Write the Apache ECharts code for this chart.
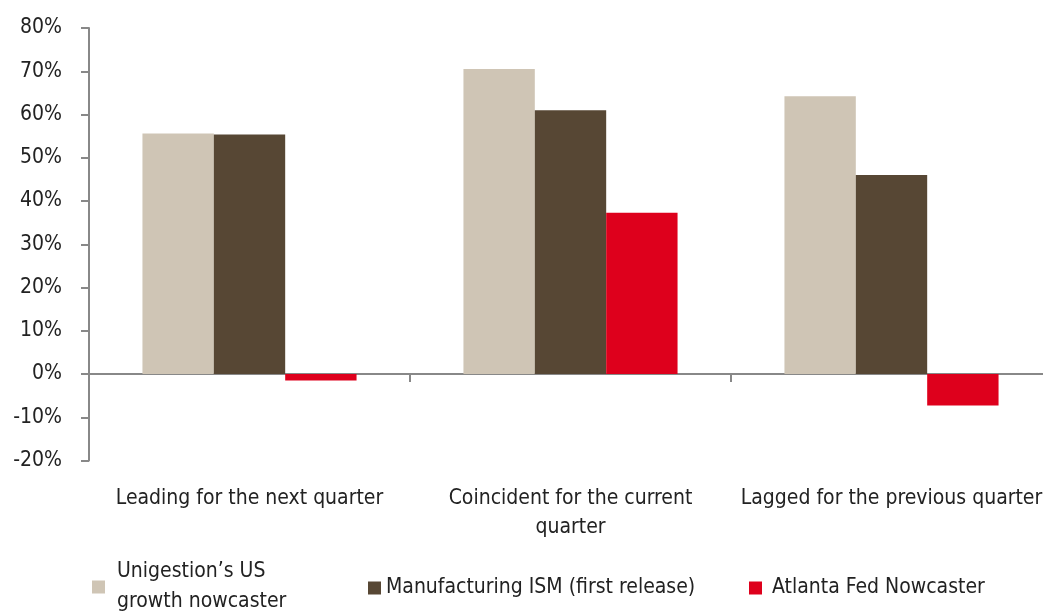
<!DOCTYPE html>
<html>
<head>
<meta charset="utf-8">
<script src="https://cdn.jsdelivr.net/npm/echarts@6/dist/echarts.min.js"></script>
<style>
  html, body { margin: 0; padding: 0; background: #fff; }
  #chart { width: 1043px; height: 614px; }
</style>
</head>
<body>
<div id="chart"></div>
<script>
const categories = ['Leading for the next quarter', 'Coincident for the current\nquarter', 'Lagged for the previous quarter'];
const nowcaster = [55.6, 70.5, 64.2];
const ism = [55.4, 61.0, 46.0];
const atlanta = [-1.5, 37.3, -7.3];
const seriesNames = ["Unigestion\u2019s US\ngrowth nowcaster", 'Manufacturing ISM (first release)', 'Atlanta Fed Nowcaster'];
const colors = ['#CFC5B5', '#574734', '#DE001C'];

const chart = echarts.init(document.getElementById('chart'));
const font = '"Liberation Sans Narrow", "DejaVu Sans Condensed", sans-serif';

const legendAt = (i, left, top, pad) => ({
  data: [seriesNames[i]],
  left: left,
  top: top,
  itemWidth: 13,
  itemHeight: 13,
  icon: 'rect',
  textStyle: { fontFamily: font, fontSize: 21, color: '#222', lineHeight: 30, padding: [0, 0, 0, pad] }
});

chart.setOption({
  animation: false,
  textStyle: { fontFamily: font },
  grid: { left: 89, top: 28, height: 432.5, width: 963, outerBoundsMode: 'none', containLabel: false },
  legend: [legendAt(0, 87, 552, 7), legendAt(1, 363, 568, 0), legendAt(2, 744, 568, 5)],
  xAxis: [
    {
      type: 'category',
      data: categories,
      axisLine: { onZero: true, lineStyle: { color: '#888', width: 2 } },
      axisTick: { show: true, length: 8, lineStyle: { color: '#888', width: 2 } },
      axisLabel: { show: false }
    },
    {
      type: 'category',
      data: categories,
      position: 'bottom',
      axisLine: { show: false, onZero: false },
      axisTick: { show: false },
      axisLabel: { interval: 0, margin: 24, fontSize: 21, color: '#222', lineHeight: 29, fontFamily: font }
    }
  ],
  yAxis: {
    type: 'value',
    min: -20,
    max: 80,
    interval: 10,
    splitLine: { show: false },
    axisLine: { show: true, lineStyle: { color: '#888', width: 2 } },
    axisTick: { show: true, length: 8, lineStyle: { color: '#888', width: 2 } },
    axisLabel: { formatter: '{value}%', margin: 27, fontSize: 21, color: '#222', fontFamily: font }
  },
  series: [
    { name: seriesNames[0], type: 'bar', data: nowcaster, itemStyle: { color: colors[0] }, barGap: '0%', barCategoryGap: '33.3%' },
    { name: seriesNames[1], type: 'bar', data: ism, itemStyle: { color: colors[1] } },
    { name: seriesNames[2], type: 'bar', data: atlanta, itemStyle: { color: colors[2] } }
  ]
});
</script>
</body>
</html>
